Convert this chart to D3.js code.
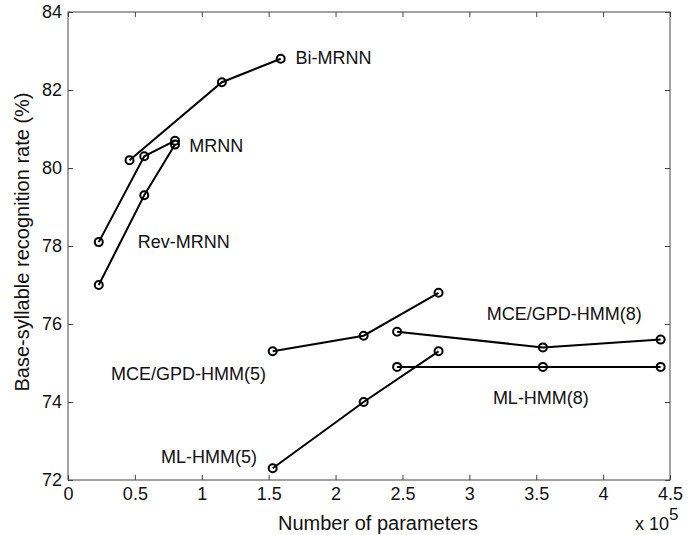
<!DOCTYPE html>
<html>
<head>
<meta charset="utf-8">
<script src="https://cdn.jsdelivr.net/npm/d3@7"></script>
<style>
  body { margin: 0; background: #fff; }
  svg text { font-family: "Liberation Sans", Arial, Helvetica, sans-serif; fill: #111; }
</style>
</head>
<body>
<script>
// values (parameters in units of 10^5, rate in %)
var biParams = [0.46, 1.15, 1.59];
var biRate = [80.2, 82.2, 82.8];
var mrnnParams = [0.23, 0.57, 0.80];
var mrnnRate = [78.1, 80.3, 80.7];
var revParams = [0.23, 0.57, 0.80];
var revRate = [77.0, 79.3, 80.6];
var mce5Params = [1.53, 2.21, 2.77];
var mce5Rate = [75.3, 75.7, 76.8];
var ml5Params = [1.53, 2.21, 2.77];
var ml5Rate = [72.3, 74.0, 75.3];
var mce8Params = [2.46, 3.55, 4.43];
var mce8Rate = [75.8, 75.4, 75.6];
var ml8Params = [2.46, 3.55, 4.43];
var ml8Rate = [74.9, 74.9, 74.9];

var seriesNames = ["Bi-MRNN", "MRNN", "Rev-MRNN", "MCE/GPD-HMM(5)", "ML-HMM(5)", "MCE/GPD-HMM(8)", "ML-HMM(8)"];
var xTicks = [0, 0.5, 1, 1.5, 2, 2.5, 3, 3.5, 4, 4.5];
var yTicks = [72, 74, 76, 78, 80, 82, 84];

const margin = {top: 12, right: 27, bottom: 55, left: 68};
const W = 697, H = 535;
const width = W - margin.left - margin.right;
const height = H - margin.top - margin.bottom;

function zipSeries(xs, ys) {
    return xs.map(function(v, i) { return {x: v, y: ys[i]}; });
}

var series = [
    zipSeries(biParams, biRate),
    zipSeries(mrnnParams, mrnnRate),
    zipSeries(revParams, revRate),
    zipSeries(mce5Params, mce5Rate),
    zipSeries(ml5Params, ml5Rate),
    zipSeries(mce8Params, mce8Rate),
    zipSeries(ml8Params, ml8Rate)
];

// where each text label sits, in data units (left edge, baseline)
var labelSpots = [
    [1.70, 82.67], [0.907, 80.42], [0.521, 77.94], [0.321, 74.56],
    [0.695, 72.44], [3.13, 76.1], [3.176, 73.95]
];

var svg = d3.select("body").append("svg")
    .attr("width", W)
    .attr("height", H);

var g = svg.append("g")
    .attr("transform", "translate(" + margin.left + "," + margin.top + ")");

var x = d3.scaleLinear().domain([0, 4.5]).range([0, width]);
var y = d3.scaleLinear().domain([72, 84]).range([height, 0]);

var axisColor = "#444";

// box
g.append("rect")
    .attr("width", width)
    .attr("height", height)
    .attr("fill", "none")
    .attr("stroke", axisColor)
    .attr("stroke-width", 1);

// inward ticks on all four sides (matlab style)
var tickLen = 5;
function styleAxis(sel) {
    sel.select(".domain").remove();
    sel.selectAll(".tick line").attr("stroke", axisColor);
    sel.selectAll(".tick text")
        .style("font-size", "18px")
        .attr("fill", "#111");
}

g.append("g")
    .attr("transform", "translate(0," + height + ")")
    .call(d3.axisBottom(x).tickValues(xTicks).tickSize(-tickLen).tickPadding(7).tickFormat(d3.format("")))
    .call(styleAxis);

g.append("g")
    .call(d3.axisTop(x).tickValues(xTicks).tickSize(-tickLen).tickFormat(""))
    .call(styleAxis);

g.append("g")
    .call(d3.axisLeft(y).tickValues(yTicks).tickSize(-tickLen).tickPadding(6))
    .call(styleAxis);

g.append("g")
    .attr("transform", "translate(" + width + ",0)")
    .call(d3.axisRight(y).tickValues(yTicks).tickSize(-tickLen).tickFormat(""))
    .call(styleAxis);

// lines + circle markers
var line = d3.line()
    .x(function(d) { return x(d.x); })
    .y(function(d) { return y(d.y); });

series.forEach(function(s) {
    g.append("path")
        .datum(s)
        .attr("d", line)
        .attr("fill", "none")
        .attr("stroke", "#000")
        .attr("stroke-width", 2);

    g.selectAll(null)
        .data(s)
        .enter()
        .append("circle")
        .attr("cx", function(d) { return x(d.x); })
        .attr("cy", function(d) { return y(d.y); })
        .attr("r", 4)
        .attr("fill", "none")
        .attr("stroke", "#000")
        .attr("stroke-width", 2);
});

// series labels
g.selectAll(".lbl")
    .data(seriesNames)
    .enter()
    .append("text")
    .attr("class", "lbl")
    .attr("x", function(d, i) { return x(labelSpots[i][0]); })
    .attr("y", function(d, i) { return y(labelSpots[i][1]); })
    .style("font-size", "18px")
    .text(function(d) { return d; });

// axis titles
svg.append("text")
    .attr("x", 378)
    .attr("y", 530)
    .attr("text-anchor", "middle")
    .style("font-size", "20px")
    .text("Number of parameters");

svg.append("text")
    .attr("transform", "translate(29,242) rotate(-90)")
    .attr("text-anchor", "middle")
    .style("font-size", "20px")
    .text("Base-syllable recognition rate (%)");

var mult = svg.append("text")
    .attr("x", 635)
    .attr("y", 530)
    .style("font-size", "18px");
mult.append("tspan").text("x 10");
mult.append("tspan").attr("dy", -10).style("font-size", "17px").text("5");
</script>
</body>
</html>
